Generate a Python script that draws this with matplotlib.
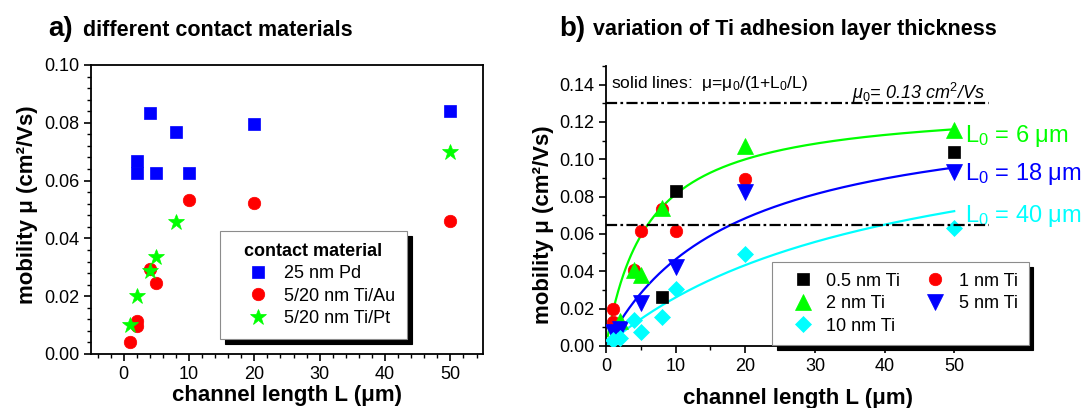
import numpy as np
import matplotlib
matplotlib.use('Agg')
import matplotlib.pyplot as plt
from matplotlib.ticker import MultipleLocator, FormatStrFormatter

plt.rcParams['font.family'] = ['Liberation Sans', 'DejaVu Sans']
plt.rcParams['mathtext.fontset'] = 'custom'
plt.rcParams['mathtext.rm'] = 'Liberation Sans'
plt.rcParams['mathtext.it'] = 'Liberation Sans:italic'
plt.rcParams['mathtext.bf'] = 'Liberation Sans:bold'

# a) different contact materials
L_pd = [2, 2, 4, 5, 8, 10, 20, 50]
mu_pd = [0.0669, 0.0626, 0.0833, 0.0626, 0.0767, 0.0625, 0.0795, 0.0842]
L_au = [1, 2, 2, 4, 5, 10, 20, 50]
mu_au = [0.0041, 0.0115, 0.0096, 0.0294, 0.0246, 0.0533, 0.0522, 0.0459]
L_pt = [1, 2, 4, 5, 8, 50]
mu_pt = [0.0101, 0.0200, 0.0288, 0.0334, 0.0457, 0.0698]

# b) Ti adhesion layer thickness
L_ti05 = [8, 10, 50]
mu_ti05 = [0.0262, 0.0829, 0.1040]
L_ti1 = [1, 1, 4, 5, 8, 10, 20]
mu_ti1 = [0.0197, 0.0130, 0.0405, 0.0617, 0.0732, 0.0617, 0.0897]
L_ti2 = [2, 4, 5, 8, 20, 50]
mu_ti2 = [0.0135, 0.0407, 0.0378, 0.0740, 0.1070, 0.1155]
L_ti5 = [1, 2, 5, 10, 20, 50]
mu_ti5 = [0.0075, 0.0090, 0.0230, 0.0425, 0.0825, 0.0932]
L_ti10 = [1, 2, 4, 5, 8, 10, 20, 50]
mu_ti10 = [0.0032, 0.0041, 0.0139, 0.0077, 0.0157, 0.0304, 0.0494, 0.0630]

mu0 = 0.13
mu_half = 0.065
L0_fits = [6, 18, 40]
fit_colors = ['#00ff00', '#0000ff', '#00ffff']
fit_label_y = [0.1093, 0.0889, 0.0666]

GREEN = '#00ff00'
BLUE = '#0000ff'
RED = '#ff0000'
CYAN = '#00ffff'

fig = plt.figure(figsize=(10.86, 4.08), dpi=100)
ax1 = fig.add_axes([0.0838, 0.1324, 0.3610, 0.7083])
ax2 = fig.add_axes([0.5580, 0.1520, 0.3527, 0.6863])

for ax in (ax1, ax2):
    for s in ax.spines.values():
        s.set_linewidth(1.3)
    ax.tick_params(which='major', direction='out', length=5, width=1.2,
                   labelsize=13, top=False, right=False)
    ax.tick_params(which='minor', direction='out', length=3, width=1.0,
                   top=False, right=False)

# --- panel a ---
ax1.plot(L_pd, mu_pd, 's', color=BLUE, ms=8, mec=BLUE, mew=0.5, label='25 nm Pd')
ax1.plot(L_au, mu_au, 'o', color=RED, ms=9, mec=RED, mew=0.5, label='5/20 nm Ti/Au')
ax1.plot(L_pt, mu_pt, '*', color=GREEN, ms=12, mec=GREEN, mew=0.5, label='5/20 nm Ti/Pt')

ax1.set_xlim(-5, 55)
ax1.set_ylim(0, 0.10)
ax1.xaxis.set_major_locator(MultipleLocator(10))
ax1.xaxis.set_minor_locator(MultipleLocator(2))
ax1.yaxis.set_major_locator(MultipleLocator(0.02))
ax1.yaxis.set_minor_locator(MultipleLocator(0.004))
ax1.xaxis.set_major_formatter(FormatStrFormatter('%d'))
ax1.yaxis.set_major_formatter(FormatStrFormatter('%.2f'))

ax1.set_xlabel('channel length L (μm)', fontsize=16, fontweight='bold')
ax1.set_ylabel('mobility μ (cm²/Vs)', fontsize=16, fontweight='bold')
ax1.xaxis.set_label_coords(0.501, -0.142)
ax1.xaxis.label.set_va('center')
ax1.yaxis.set_label_coords(-0.161, 0.516)
ax1.yaxis.label.set_va('center')

leg1 = ax1.legend(title='contact material', loc='upper left',
                  bbox_to_anchor=(0.329, 0.4256), borderaxespad=0,
                  fontsize=13, title_fontproperties={'weight': 'bold', 'size': 13},
                  fancybox=False, edgecolor='0.55',
                  shadow={'ox': 3.5, 'oy': -3.5, 'color': 'black', 'alpha': 1},
                  numpoints=1, handlelength=2.9, handletextpad=0.0,
                  labelspacing=0.3, borderpad=0.65, framealpha=1)
leg1.get_frame().set_linewidth(0.8)

# --- panel b ---
L_fit = np.linspace(0.25, 50, 400)
for L0, c in zip(L0_fits, fit_colors):
    ax2.plot(L_fit, mu0 / (1 + L0 / L_fit), '-', color=c, lw=1.6, zorder=2)

h05, = ax2.plot(L_ti05, mu_ti05, 's', color='black', ms=8, mec='black', mew=0.5, zorder=3, label='0.5 nm Ti')
h1, = ax2.plot(L_ti1, mu_ti1, 'o', color=RED, ms=9, mec=RED, mew=0.5, zorder=3, label='1 nm Ti')
h2, = ax2.plot(L_ti2, mu_ti2, '^', color=GREEN, ms=11, mec=GREEN, mew=0.5, zorder=3, label='2 nm Ti')
h5, = ax2.plot(L_ti5, mu_ti5, 'v', color=BLUE, ms=11, mec=BLUE, mew=0.5, zorder=3, label='5 nm Ti')
h10, = ax2.plot(L_ti10, mu_ti10, 'D', color=CYAN, ms=8.5, mec=CYAN, mew=0.5, zorder=3, label='10 nm Ti')

for y in (mu0, mu_half):
    ax2.axhline(y, color='black', lw=1.6, dashes=(5, 1.5, 1.2, 1.5), zorder=4)

ax2.set_xlim(0, 55)
ax2.set_ylim(0, 0.15)
ax2.spines['top'].set_visible(False)
ax2.spines['right'].set_visible(False)
ax2.xaxis.set_major_locator(MultipleLocator(10))
ax2.xaxis.set_minor_locator(MultipleLocator(5))
ax2.yaxis.set_major_locator(MultipleLocator(0.02))
ax2.yaxis.set_minor_locator(MultipleLocator(0.01))
ax2.xaxis.set_major_formatter(FormatStrFormatter('%d'))
ax2.yaxis.set_major_formatter(FormatStrFormatter('%.2f'))

ax2.set_xlabel('channel length L (μm)', fontsize=16, fontweight='bold')
ax2.set_ylabel('mobility μ (cm²/Vs)', fontsize=16, fontweight='bold')
ax2.xaxis.set_label_coords(0.5, -0.186)
ax2.xaxis.label.set_va('center')
ax2.yaxis.set_label_coords(-0.164, 0.432)
ax2.yaxis.label.set_va('center')

ax2.text(0.7, 0.1405, 'solid lines:  μ=μ$_\\mathrm{0}$/(1+L$_\\mathrm{0}$/L)',
         fontsize=12.5, va='center', ha='left')
ax2.text(54.4, 0.1355, 'μ$_\\mathit{0}$= 0.13 cm$^\\mathit{2}$/Vs',
         fontsize=13, style='italic', va='center', ha='right')

for L0, c, yl in zip(L0_fits, fit_colors, fit_label_y):
    ax2.text(51.6, yl, 'L$_\\mathrm{0}$ = %d μm' % L0, color=c, fontsize=17,
             va='baseline', ha='left', clip_on=False)

# legend rows read 0.5/1, 2/5, 10 -> give the handles column by column
leg2 = ax2.legend([h05, h2, h10, h1, h5], ['0.5 nm Ti', '2 nm Ti', '10 nm Ti', '1 nm Ti', '5 nm Ti'],
                  loc='upper left', ncol=2, bbox_to_anchor=(0.433, 0.30),
                  borderaxespad=0, fontsize=13, fancybox=False, edgecolor='0.55',
                  shadow={'ox': 3.5, 'oy': -3.5, 'color': 'black', 'alpha': 1},
                  numpoints=1, handlelength=2.2, handletextpad=0.2,
                  labelspacing=0.3, columnspacing=0.85, borderpad=0.6, framealpha=1)
leg2.get_frame().set_linewidth(0.8)

# panel headings
fig.text(48 / 1086, 1 - 35.5 / 408, 'a)', fontsize=20, fontweight='bold', va='baseline')
fig.text(83 / 1086, 1 - 35.5 / 408, 'different contact materials', fontsize=15.5,
         fontweight='bold', va='baseline')
fig.text(559 / 1086, 1 - 35.5 / 408, 'b)', fontsize=20, fontweight='bold', va='baseline')
fig.text(593 / 1086, 1 - 35.5 / 408, 'variation of Ti adhesion layer thickness',
         fontsize=15.5, fontweight='bold', va='baseline')

fig.savefig('out.png', dpi=100)
